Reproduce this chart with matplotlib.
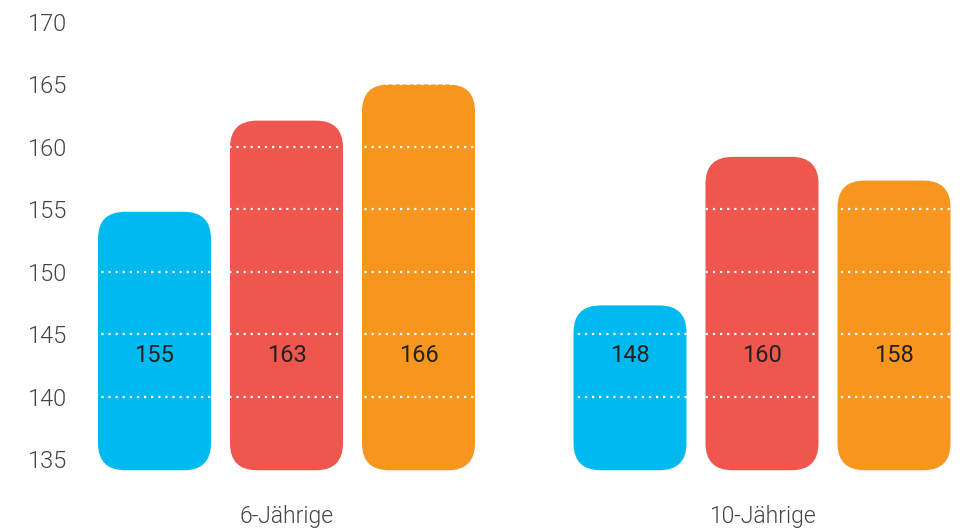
import matplotlib
matplotlib.use("Agg")
import matplotlib.pyplot as plt
from matplotlib.patches import FancyBboxPatch

# Data
groups = ["6-Jährige", "10-Jährige"]
series_colors = ["#00BAEF", "#EF564E", "#F7961F"]
labels_6 = [155, 163, 166]          # printed values
labels_10 = [148, 160, 158]
tops_6 = [154.8, 162.1, 165.0]      # bar tops as drawn in the picture
tops_10 = [147.3, 159.2, 157.3]
bar_base = 134.1
yticks = [135, 140, 145, 150, 155, 160, 165, 170]

W, H, DPI = 967, 528, 100
plt.rcParams['font.family'] = ['Roboto', 'Liberation Sans', 'DejaVu Sans']
fig = plt.figure(figsize=(W / DPI, H / DPI), dpi=DPI)

# axes geometry (pixels)
ax_left_px, ax_bottom_px = 80, 490
ax = fig.add_axes([ax_left_px / W, (H - ax_bottom_px) / H, 1 - ax_left_px / W, ax_bottom_px / H])

px_per_unit_y = (459 - 22) / 35.0
px_per_unit_x = 762 - 286.5
ymax = 170 + 22 / px_per_unit_y
ymin = 135 - (ax_bottom_px - 459) / px_per_unit_y
xmin = (ax_left_px - 286.5) / px_per_unit_x
xmax = (W - 286.5) / px_per_unit_x
ax.set_xlim(xmin, xmax)
ax.set_ylim(ymin, ymax)

offset = 132 / px_per_unit_x
width = 113 / px_per_unit_x
radius_px = 27
rs = radius_px / px_per_unit_x
aspect = px_per_unit_x / px_per_unit_y

for gi, (tops, labs) in enumerate([(tops_6, labels_6), (tops_10, labels_10)]):
    for si, (top, lab) in enumerate(zip(tops, labs)):
        xc = gi + (si - 1) * offset
        p = FancyBboxPatch((xc - width / 2, bar_base), width, top - bar_base,
                           boxstyle=f"round,pad=0,rounding_size={rs}",
                           mutation_aspect=aspect,
                           facecolor=series_colors[si], edgecolor="none", zorder=2)
        ax.add_patch(p)
        ax.text(xc, 143.25, str(lab), ha="center", va="center", fontsize=17,
                color="#222222", fontweight=400, zorder=4)

for y in yticks[1:]:
    ax.axhline(y, color="white", linestyle=(0, (1, 2.2)), linewidth=1.6, zorder=3)

ax.set_yticks(yticks)
ax.set_yticklabels([str(t) for t in yticks], fontsize=17, color="#444444", fontweight=300)
ax.set_xticks([0, 1])
ax.set_xticklabels(groups, fontsize=16.5, color="#444444", fontweight=300)
ax.tick_params(axis="y", length=0, pad=9)
ax.tick_params(axis="x", length=0, pad=11)
for s in ax.spines.values():
    s.set_visible(False)

fig.savefig("out.png", dpi=DPI)
